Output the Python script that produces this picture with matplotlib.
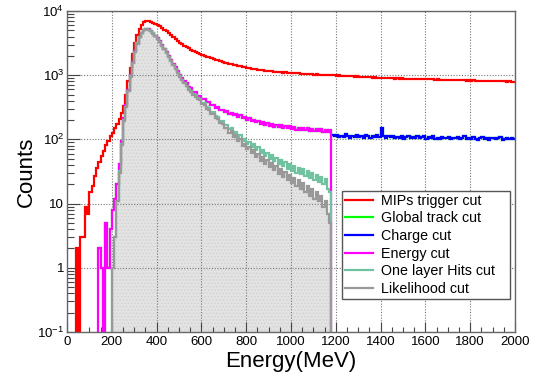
import numpy as np
import matplotlib
matplotlib.use("Agg")
import matplotlib.pyplot as plt
from matplotlib.ticker import FixedLocator, FixedFormatter, MultipleLocator, LogLocator, NullFormatter
from matplotlib.lines import Line2D

plt.rcParams['font.family'] = ['Liberation Sans', 'DejaVu Sans']
plt.rcParams['mathtext.fontset'] = 'custom'
plt.rcParams['mathtext.rm'] = 'Liberation Sans'
plt.rcParams['mathtext.it'] = 'Liberation Sans:italic'
plt.rcParams['mathtext.bf'] = 'Liberation Sans:bold'
plt.rcParams['hatch.linewidth'] = 0.6

# ---------------- data (10 MeV bins, counts per bin) ----------------
bin_width = 10

mips_start = 0
mips_trigger = [
    0, 0, 0, 0, 2, 0, 3, 3, 9, 7,
    15, 19, 27, 36, 44, 56, 66, 82, 95, 112,
    128, 150, 172, 205, 255, 330, 500, 820, 1300, 2150,
    3150, 4250, 5250, 6050, 6650, 6950, 7000, 6850, 6600, 6350,
    6050, 5750, 5450, 5150, 4850, 4500, 4200, 3920, 3650, 3420,
    3220, 3050, 2890, 2750, 2610, 2500, 2400, 2300, 2230, 2150,
    2080, 2020, 1950, 1895, 1835, 1795, 1735, 1705, 1645, 1615,
    1570, 1545, 1495, 1480, 1440, 1425, 1385, 1375, 1335, 1325,
    1295, 1290, 1260, 1255, 1230, 1225, 1200, 1200, 1175, 1172,
    1155, 1155, 1135, 1135, 1120, 1120, 1100, 1104, 1088, 1090,
    1075, 1080, 1065, 1070, 1052, 1058, 1048, 1044, 1040, 1038,
    1022, 1028, 1015, 1018, 1005, 1012, 998, 1004, 992, 996,
    984, 990, 976, 980, 966, 974, 958, 962, 952, 958,
    945, 948, 936, 942, 928, 934, 920, 926, 914, 918,
    912, 904, 902, 908, 894, 900, 888, 896, 884, 892,
    880, 888, 876, 884, 870, 880, 868, 876, 864, 872,
    862, 870, 858, 866, 852, 862, 848, 856, 844, 852,
    842, 850, 836, 846, 832, 840, 828, 838, 824, 834,
    822, 830, 818, 826, 814, 822, 810, 818, 806, 816,
    804, 812, 800, 808, 798, 806, 794, 802, 790, 796,
]

energy_start = 140
energy_cut = [
    2, 1, 0, 5, 1, 4,
    8, 12, 20, 42, 95, 215, 345, 590, 990, 1610,
    2370, 3170, 3960, 4560, 5060, 5260, 5200, 4950, 4560, 4150,
    3750, 3350, 2960, 2600, 2260, 1960, 1710, 1500, 1320, 1160,
    1010, 915, 805, 750, 655, 625, 555, 540, 480, 472,
    428, 420, 382, 378, 342, 344, 312, 316, 285, 290,
    268, 275, 252, 262, 238, 250, 226, 236, 214, 224,
    204, 214, 194, 204, 184, 196, 176, 188, 170, 180,
    164, 174, 158, 170, 154, 166, 150, 162, 148, 160,
    144, 156, 142, 153, 140, 151, 138, 149, 137, 147,
    135, 145, 134, 143, 132, 141, 131, 139,
]

layer_start = 200
one_layer_hits_cut = [
    1, 3, 11, 32, 85, 200, 325, 565, 960, 1560,
    2320, 3120, 3920, 4530, 5020, 5220, 5150, 4900, 4500, 4100,
    3700, 3300, 2900, 2550, 2200, 1900, 1650, 1450, 1260, 1100,
    960, 850, 760, 690, 610, 565, 505, 485, 435, 425,
    375, 365, 318, 310, 268, 264, 228, 224, 194, 192,
    166, 170, 146, 150, 126, 130, 110, 116, 96, 102,
    86, 92, 76, 84, 68, 76, 61, 68, 55, 62,
    50, 57, 46, 52, 42, 48, 38, 45, 35, 42,
    32, 39, 30, 36, 29, 34, 27, 32, 25, 30,
    23, 28, 22, 26, 20, 24, 17, 15,
]

likelihood_start = 200
likelihood_cut = [
    1, 3, 11, 30, 82, 195, 320, 560, 950, 1550,
    2300, 3100, 3900, 4500, 5000, 5200, 5120, 4860, 4460, 4060,
    3660, 3260, 2880, 2530, 2190, 1890, 1640, 1440, 1250, 1090,
    950, 840, 745, 670, 595, 548, 490, 465, 420, 405,
    362, 345, 302, 292, 252, 246, 212, 206, 178, 176,
    148, 152, 128, 136, 110, 116, 94, 100, 80, 86,
    70, 76, 61, 68, 53, 60, 46, 53, 41, 48,
    37, 43, 33, 39, 29, 35, 26, 31, 23, 28,
    21, 25, 19, 23, 17, 21, 15, 19, 13, 17,
    12, 15, 11, 13, 9, 11, 7, 5,
]

charge_start = 1180
charge_cut = [
    116, 112,
    118, 110, 114, 108, 120, 112, 106, 115, 110, 117,
    109, 113, 107, 118, 111, 105, 114, 109, 116, 108,
    150, 112, 106, 113, 108, 115, 104, 110, 107, 112,
    103, 109, 114, 105, 110, 106, 112, 104, 108, 111,
    102, 108, 105, 111, 100, 107, 103, 109, 104, 106,
    110, 102, 107, 104, 109, 101, 106, 112, 103, 107,
    100, 108, 103, 98, 106, 110, 101, 105, 99, 104,
    106, 100, 104, 108, 99, 103, 107, 101, 105, 102,
]

# global track cut: identical to energy cut below 1180 MeV and charge cut above
global_start = energy_start
global_track_cut = energy_cut + charge_cut

legend_labels = ["MIPs trigger cut", "Global track cut", "Charge cut",
                 "Energy cut", "One layer Hits cut", "Likelihood cut"]
x_ticks = [0, 200, 400, 600, 800, 1000, 1200, 1400, 1600, 1800, 2000]
y_ticks = [0.1, 1, 10, 100, 1000, 10000]
y_tick_labels = [r"$10^{-1}$", "1", "10", r"$10^{2}$", r"$10^{3}$", r"$10^{4}$"]

# ---------------- drawing ----------------
FLOOR = 1e-3


def edges(start, vals):
    return start + bin_width * np.arange(len(vals) + 1)


def safe(vals):
    v = np.asarray(vals, dtype=float)
    return np.where(v > 0, v, FLOOR)


fig = plt.figure(figsize=(5.43, 3.76), dpi=100)
ax = fig.add_axes([67 / 543, 1 - 332 / 376, 448 / 543, 321 / 376])
ax.set_yscale('log')

colors = ['#ff0000', '#00ff00', '#0000ff', '#ff00ff', '#70c2a0', '#999999']
lw = 1.6

# filled likelihood histogram (background)
ax.stairs(safe(likelihood_cut), edges(likelihood_start, likelihood_cut),
          baseline=FLOOR, fill=True, facecolor='#e3e3e3',
          edgecolor='#d0d0d0', hatch='.....', linewidth=0, zorder=0.3)

series = [
    (mips_trigger, mips_start, colors[0], None),
    (global_track_cut, global_start, colors[1], None),
    (charge_cut, charge_start, colors[2], None),
    (energy_cut, energy_start, colors[3], FLOOR),
    (one_layer_hits_cut, layer_start, colors[4], FLOOR),
    (likelihood_cut, likelihood_start, colors[5], FLOOR),
]
for i, (vals, start, c, base) in enumerate(series):
    ax.stairs(safe(vals), edges(start, vals), baseline=base, color=c,
              linewidth=lw, zorder=2 + i * 0.01)

ax.set_xlim(0, 2000)
ax.set_ylim(0.1, 1e4)

ax.xaxis.set_major_locator(FixedLocator(x_ticks))
ax.xaxis.set_minor_locator(MultipleLocator(50))
ax.yaxis.set_major_locator(FixedLocator(y_ticks))
ax.yaxis.set_major_formatter(FixedFormatter(y_tick_labels))
ax.yaxis.set_minor_locator(LogLocator(base=10, subs=np.arange(2, 10)))
ax.yaxis.set_minor_formatter(NullFormatter())

ax.tick_params(which='both', direction='in', top=False, right=False,
               color='#444444', width=0.8, labelsize=9.5)
ax.tick_params(axis='x', which='major', length=7, pad=3)
ax.tick_params(axis='x', which='minor', length=3.5)
ax.tick_params(axis='y', which='major', length=9.5, pad=2)
ax.tick_params(axis='y', which='minor', length=4.8)

ax.set_axisbelow(True)
ax.grid(True, which='major', color='#777777', linestyle=(0, (1, 1.5)), linewidth=0.8)
for gl in ax.get_xgridlines() + ax.get_ygridlines():
    gl.set_zorder(1)

for s in ax.spines.values():
    s.set_color('#666666')
    s.set_linewidth(1.0)
    s.set_zorder(5)

ax.set_xlabel('Energy(MeV)', fontsize=16)
ax.xaxis.set_label_coords(0.5, -0.058)
ax.set_ylabel('Counts', fontsize=16)
ax.yaxis.set_label_coords(-0.068, 0.5)

handles = [Line2D([], [], color=c, lw=lw) for c in colors]
leg = ax.legend(handles, legend_labels, loc='upper left',
                bbox_to_anchor=(342 / 543, (376 - 312) / 376, 168 / 543, 121 / 376),
                bbox_transform=fig.transFigure, mode='expand',
                fontsize=10.3, frameon=True, fancybox=False, edgecolor='#555555',
                framealpha=1, borderpad=0.2, labelspacing=0.25, handlelength=2.0,
                handletextpad=0.5, borderaxespad=0)
leg.get_frame().set_linewidth(1.0)
leg.set_zorder(10)

fig.savefig('out.png', dpi=100)
